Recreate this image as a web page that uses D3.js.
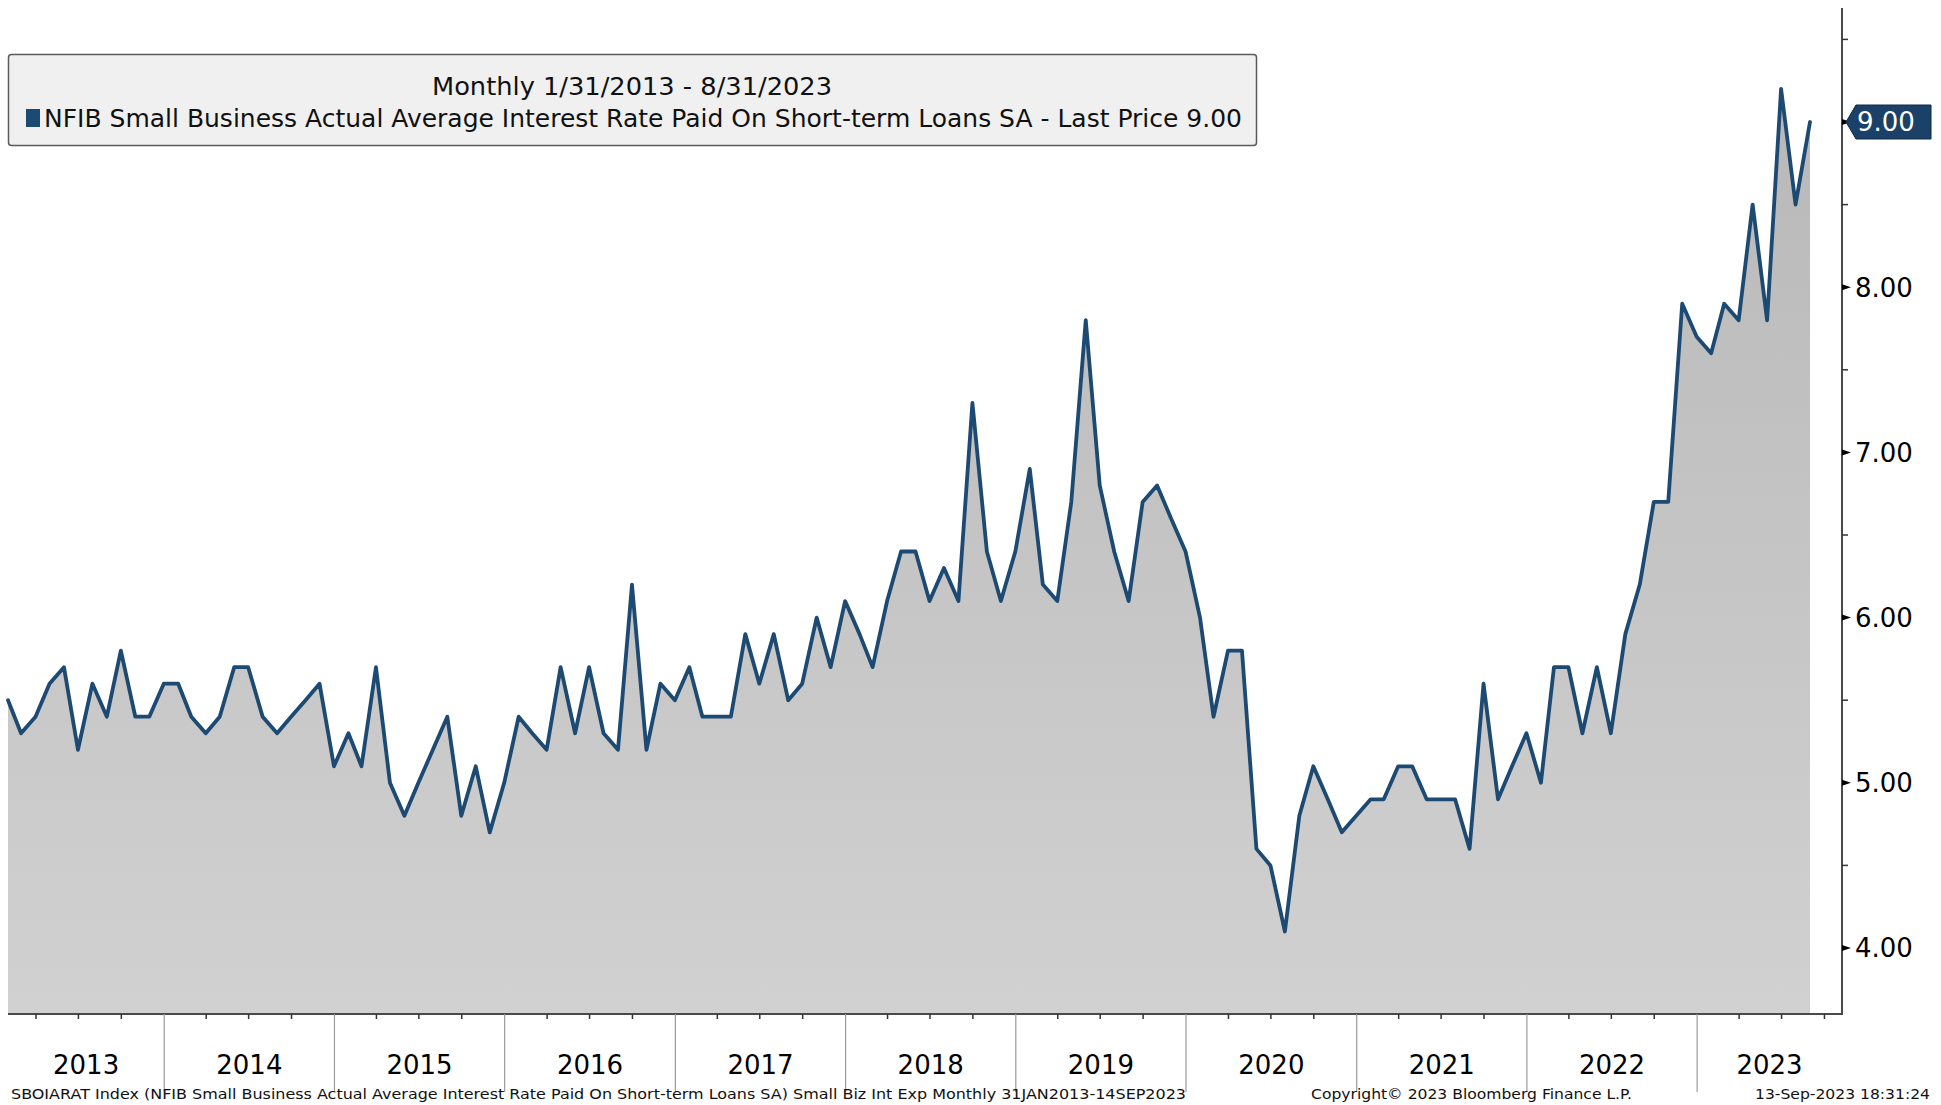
<!DOCTYPE html>
<html><head><meta charset="utf-8">
<script src="https://cdn.jsdelivr.net/npm/d3@7"></script>
<style>
body{margin:0;background:#fff}
svg{display:block}
text{font-family:"DejaVu Sans",Verdana,sans-serif}
</style></head>
<body><svg id="c" width="1941" height="1105"></svg>
<script>
// Monthly values (month-end), Jan 2013 .. Aug 2023
const rates2013 = [5.5, 5.3, 5.4, 5.6, 5.7, 5.2, 5.6, 5.4, 5.8, 5.4, 5.4, 5.6];
const rates2014 = [5.6, 5.4, 5.3, 5.4, 5.7, 5.7, 5.4, 5.3, 5.4, 5.5, 5.6, 5.1];
const rates2015 = [5.3, 5.1, 5.7, 5.0, 4.8, 5.0, 5.2, 5.4, 4.8, 5.1, 4.7, 5.0];
const rates2016 = [5.4, 5.3, 5.2, 5.7, 5.3, 5.7, 5.3, 5.2, 6.2, 5.2, 5.6, 5.5];
const rates2017 = [5.7, 5.4, 5.4, 5.4, 5.9, 5.6, 5.9, 5.5, 5.6, 6.0, 5.7, 6.1];
const rates2018 = [5.9, 5.7, 6.1, 6.4, 6.4, 6.1, 6.3, 6.1, 7.3, 6.4, 6.1, 6.4];
const rates2019 = [6.9, 6.2, 6.1, 6.7, 7.8, 6.8, 6.4, 6.1, 6.7, 6.8, 6.6, 6.4];
const rates2020 = [6.0, 5.4, 5.8, 5.8, 4.6, 4.5, 4.1, 4.8, 5.1, 4.9, 4.7, 4.8];
const rates2021 = [4.9, 4.9, 5.1, 5.1, 4.9, 4.9, 4.9, 4.6, 5.6, 4.9, 5.1, 5.3];
const rates2022 = [5.0, 5.7, 5.7, 5.3, 5.7, 5.3, 5.9, 6.2, 6.7, 6.7, 7.9, 7.7];
const rates2023 = [7.6, 7.9, 7.8, 8.5, 7.8, 9.2, 8.5, 9.0];
const firstMonth = "2013-01";
const yearLabels = ["2013","2014","2015","2016","2017","2018","2019","2020","2021","2022","2023"];
const yTickValues = [4, 5, 6, 7, 8, 9];
const yTickLabels = ["4.00","5.00","6.00","7.00","8.00","9.00"];
const lastPriceLabel = "9.00";
const legendTitle = "Monthly 1/31/2013 - 8/31/2023";
const legendSeries = "NFIB Small Business Actual Average Interest Rate Paid On Short-term Loans SA - Last Price 9.00";
const footLeft = "SBOIARAT Index (NFIB Small Business Actual Average Interest Rate Paid On Short-term Loans SA) Small Biz Int Exp  Monthly 31JAN2013-14SEP2023";
const footMid = "Copyright\u00a9 2023 Bloomberg Finance L.P.";
const footRight = "13-Sep-2023 18:31:24";

const values = [].concat(rates2013, rates2014, rates2015, rates2016, rates2017, rates2018,
  rates2019, rates2020, rates2021, rates2022, rates2023);
const start = d3.timeParse("%Y-%m")(firstMonth);
const data = values.map((v, i) => ({
  date: d3.timeDay.offset(d3.timeMonth.offset(start, i + 1), -1), // month end
  v
}));

// layout
const W = 1941, H = 1105;
const plotLeft = 8, plotTop = 8, plotBottom = 1014, axisX = 1842;
const lastX = 1810;
const lineColor = "#1c4a72";

const svg = d3.select("#c");

const x = d3.scaleTime()
  .domain([data[0].date, data[data.length - 1].date])
  .range([plotLeft, lastX]);
const y = d3.scaleLinear().domain([4, 9]).range([948, 122]);

const defs = svg.append("defs");
const grad = defs.append("linearGradient").attr("id", "g")
  .attr("gradientUnits", "userSpaceOnUse")
  .attr("x1", 0).attr("x2", 0).attr("y1", 80).attr("y2", plotBottom);
grad.append("stop").attr("offset", 0).attr("stop-color", "#b8b8b8");
grad.append("stop").attr("offset", 1).attr("stop-color", "#d1d1d1");

// area
const area = d3.area().x(d => x(d.date)).y0(plotBottom).y1(d => y(d.v));
svg.append("path").datum(data).attr("d", area).attr("fill", "url(#g)");

// line
const line = d3.line().x(d => x(d.date)).y(d => y(d.v));
svg.append("path").datum(data).attr("d", line)
  .attr("fill", "none").attr("stroke", lineColor).attr("stroke-width", 3.8)
  .attr("stroke-linejoin", "round").attr("stroke-linecap", "round");

// axes lines
svg.append("line").attr("x1", plotLeft).attr("x2", axisX).attr("y1", plotBottom).attr("y2", plotBottom)
  .attr("stroke", "#4a4a4a").attr("stroke-width", 2);
svg.append("line").attr("x1", axisX).attr("x2", axisX).attr("y1", plotTop).attr("y2", plotBottom + 1)
  .attr("stroke", "#4a4a4a").attr("stroke-width", 2);

// x quarter ticks and year separators
const endDate = x.invert(axisX);
const quarterTicks = d3.timeMonth.every(3).range(d3.timeYear.floor(data[0].date), endDate)
  .filter(d => x(d) > plotLeft + 2 && d.getMonth() !== 0);
svg.append("g").selectAll("line").data(quarterTicks).join("line")
  .attr("x1", d => x(d)).attr("x2", d => x(d))
  .attr("y1", plotBottom).attr("y2", plotBottom + 5)
  .attr("stroke", "#333").attr("stroke-width", 1.5);

const yearStarts = d3.timeYear.range(d3.timeYear.ceil(data[0].date), endDate);
svg.append("g").selectAll("line").data(yearStarts).join("line")
  .attr("x1", d => x(d)).attr("x2", d => x(d))
  .attr("y1", plotBottom).attr("y2", 1092)
  .attr("stroke", "#9a9a9a").attr("stroke-width", 1.2);

// year labels centered within each year span
const yearSpans = yearLabels.map(lbl => {
  const y0 = new Date(+lbl, 0, 1), y1 = new Date(+lbl + 1, 0, 1);
  const a = Math.max(plotLeft, x(y0)), b = Math.min(axisX, x(y1));
  return {lbl, cx: (a + b) / 2};
});
svg.append("g").selectAll("text").data(yearSpans).join("text")
  .attr("x", d => d.cx).attr("y", 1074).attr("text-anchor", "middle")
  .attr("font-size", 26).attr("fill", "#000").text(d => d.lbl);

// y ticks
const minorTicks = d3.range(4.5, 9.6, 1);
svg.append("g").selectAll("line").data(minorTicks).join("line")
  .attr("x1", axisX).attr("x2", axisX + 6).attr("y1", d => y(d)).attr("y2", d => y(d))
  .attr("stroke", "#333").attr("stroke-width", 1.5);
svg.append("g").selectAll("path").data(yTickValues).join("path")
  .attr("d", d => `M${axisX},${y(d) - 3}L${axisX + 9},${y(d)}L${axisX},${y(d) + 3}Z`)
  .attr("fill", "#000");
svg.append("g").selectAll("text").data(yTickValues).join("text")
  .attr("x", axisX + 13).attr("y", d => y(d)).attr("dy", "0.36em")
  .attr("font-size", 26).attr("fill", "#000").text((d, i) => yTickLabels[i]);

// last price label
const lp = data[data.length - 1].v;
const ly = y(lp);
svg.append("path")
  .attr("d", `M${axisX + 4},${ly}L${axisX + 14},${ly - 17}L${W - 10},${ly - 17}L${W - 10},${ly + 17}L${axisX + 14},${ly + 17}Z`)
  .attr("fill", "#1b4168").attr("stroke", "#0e2a48").attr("stroke-width", 1);
svg.append("text").attr("x", axisX + 15).attr("y", ly).attr("dy", "0.36em")
  .attr("font-size", 26).attr("fill", "#fff").text(lastPriceLabel);

// legend
svg.append("rect").attr("x", 8.5).attr("y", 54.5).attr("width", 1248).attr("height", 91)
  .attr("rx", 3).attr("fill", "#f0f0f0").attr("stroke", "#5a5a5a").attr("stroke-width", 1.5);
svg.append("text").attr("x", 632).attr("y", 95).attr("text-anchor", "middle")
  .attr("font-size", 24).attr("fill", "#111")
  .attr("textLength", 400).attr("lengthAdjust", "spacingAndGlyphs").text(legendTitle);
svg.append("rect").attr("x", 26).attr("y", 109).attr("width", 14).attr("height", 18).attr("fill", lineColor);
svg.append("text").attr("x", 44).attr("y", 127).attr("font-size", 24).attr("fill", "#111")
  .attr("textLength", 1198).attr("lengthAdjust", "spacingAndGlyphs").text(legendSeries);

// footer
svg.append("text").attr("x", 11).attr("y", 1099).attr("font-size", 14.5).attr("fill", "#111")
  .attr("textLength", 1175).attr("lengthAdjust", "spacingAndGlyphs").text(footLeft);
svg.append("text").attr("x", 1311).attr("y", 1099).attr("font-size", 14.5).attr("fill", "#111")
  .attr("textLength", 321).attr("lengthAdjust", "spacingAndGlyphs").text(footMid);
svg.append("text").attr("x", 1755).attr("y", 1099).attr("font-size", 14.5).attr("fill", "#111")
  .attr("textLength", 175).attr("lengthAdjust", "spacingAndGlyphs").text(footRight);
</script></body></html>
